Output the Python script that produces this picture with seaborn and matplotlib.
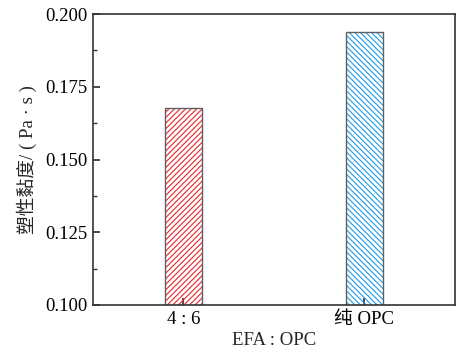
import seaborn as sns
import matplotlib.pyplot as plt
import pandas as pd
from matplotlib.patches import Rectangle
from matplotlib.ticker import MultipleLocator

categories = ["4 : 6", "纯 OPC"]
viscosity = [0.1677, 0.1937]
bar_colors = ["#e8262a", "#1c9be6"]
hatches = ["//////", "\\\\\\\\\\\\"]


def main():
    sns.set_theme(style="white")
    plt.rcParams['font.family'] = ['Liberation Serif', 'Noto Sans CJK SC']
    plt.rcParams['axes.unicode_minus'] = False
    plt.rcParams['hatch.linewidth'] = 0.8

    df = pd.DataFrame({"ratio": categories, "viscosity": viscosity})

    fig = plt.figure(figsize=(4.6, 3.53), dpi=100)
    ax = fig.add_axes([0.202, 0.136, 0.787, 0.824])
    sns.barplot(data=df, x="ratio", y="viscosity", ax=ax, width=0.2,
                color="white", edgecolor="#606060", linewidth=1.0)

    # hatch drawn as a separate layer so its colour differs from the outline
    for p, c, h in zip(ax.patches, bar_colors, hatches):
        ax.add_patch(Rectangle(p.get_xy(), p.get_width(), p.get_height(),
                               fill=False, hatch=h, edgecolor=c, lw=0, zorder=p.get_zorder()))
        p.set_zorder(p.get_zorder() + 0.1)
        p.set_facecolor("none")

    ax.set_xlim(-0.5, 1.5)
    ax.set_ylim(0.100, 0.200)
    ax.yaxis.set_major_locator(MultipleLocator(0.025))
    ax.yaxis.set_minor_locator(MultipleLocator(0.0125))
    ax.yaxis.set_major_formatter(plt.FormatStrFormatter("%.3f"))
    ax.tick_params(axis="both", which="both", direction="in", colors="#333333",
                   labelcolor="black", labelsize=13.5)
    ax.tick_params(axis="y", which="major", length=5, left=True, pad=4)
    ax.tick_params(axis="y", which="minor", length=3, left=True)
    ax.tick_params(axis="x", which="major", length=5, bottom=True, pad=4)

    for s in ax.spines.values():
        s.set_color("#333333")
        s.set_linewidth(1.2)

    ax.set_xlabel("EFA : OPC", fontsize=13.5, labelpad=3)
    ax.set_ylabel("塑性黏度/ ( Pa · s )", fontsize=13.5, labelpad=6)

    plt.savefig("out.png", dpi=100)


if __name__ == '__main__':
    main()
